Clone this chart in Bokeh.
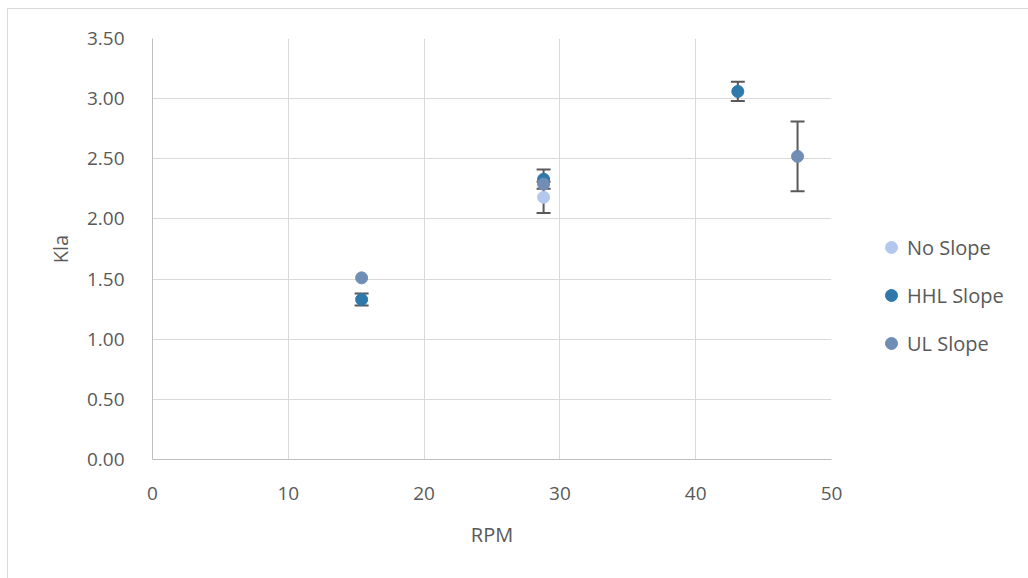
from bokeh.plotting import figure
from bokeh.layouts import row
from bokeh.models import ColumnDataSource, Whisker, TeeHead, Legend, LegendItem, FixedTicker, Range1d, NumeralTickFormatter
from bokeh.embed import file_html
from bokeh.resources import INLINE

# Data
no_x = [28.8]
no_y = [2.18]
no_err = [0.13]

hhl_x = [15.4, 28.8, 43.1]
hhl_y = [1.33, 2.33, 3.06]
hhl_err = [0.05, 0.08, 0.08]

ul_x = [15.4, 28.8, 47.5]
ul_y = [1.51, 2.29, 2.52]
ul_err = [0.0, 0.0, 0.29]

series = ["No Slope", "HHL Slope", "UL Slope"]
colors = {"No Slope": "#B4C7EC", "HHL Slope": "#2E78AA", "UL Slope": "#6F8DB5"}
FONT = "Open Sans"
TXT = "#595959"

p = figure(width=838, height=570, output_backend="svg", toolbar_location=None,
           x_range=Range1d(0, 50), y_range=Range1d(0, 3.5),
           min_border_left=144, min_border_right=15, min_border_top=29, min_border_bottom=120)
p.outline_line_color = None
p.background_fill_color = "white"

p.xaxis.ticker = FixedTicker(ticks=[0, 10, 20, 30, 40, 50])
p.yaxis.ticker = FixedTicker(ticks=[0, 0.5, 1, 1.5, 2, 2.5, 3, 3.5])
p.yaxis.formatter = NumeralTickFormatter(format="0.00")
for ax in (p.xaxis[0], p.yaxis[0]):
    ax.major_tick_line_color = None
    ax.minor_tick_line_color = None
    ax.axis_line_color = "#BFBFBF"
    ax.major_label_text_font = FONT
    ax.major_label_text_font_size = "19px"
    ax.major_label_text_color = TXT
    ax.axis_label_text_font = FONT
    ax.axis_label_text_font_size = "20px"
    ax.axis_label_text_color = TXT
    ax.axis_label_text_font_style = "normal"
p.xaxis.axis_label = "RPM"
p.yaxis.axis_label = "Kla"
p.xaxis.major_label_standoff = 21
p.yaxis.major_label_standoff = 22
p.xaxis.axis_label_standoff = 18
p.yaxis.axis_label_standoff = 10
p.grid.grid_line_color = "#D9D9D9"
p.grid.grid_line_width = 1

def add_err(xs, ys, es):
    src = ColumnDataSource(dict(x=[x for x, e in zip(xs, es) if e > 0],
                                lo=[y - e for y, e in zip(ys, es) if e > 0],
                                hi=[y + e for y, e in zip(ys, es) if e > 0]))
    w = Whisker(source=src, base="x", upper="hi", lower="lo", dimension="height",
                line_color="#595959", line_width=2,
                upper_head=TeeHead(size=14, line_color="#595959", line_width=2),
                lower_head=TeeHead(size=14, line_color="#595959", line_width=2))
    p.add_layout(w)

add_err(no_x, no_y, no_err)
add_err(hhl_x, hhl_y, hhl_err)
add_err(ul_x, ul_y, ul_err)

p.scatter(no_x, no_y, size=12, color=colors["No Slope"])
p.scatter(hhl_x, hhl_y, size=12, color=colors["HHL Slope"])
p.scatter(ul_x, ul_y, size=12, color=colors["UL Slope"])

# Legend panel (dummy off-range renderers only provide legend swatches)
p2 = figure(width=184, height=570, output_backend="svg", toolbar_location=None,
            x_axis_type=None, y_axis_type=None, x_range=Range1d(0, 1), y_range=Range1d(0, 1),
            min_border_left=0, min_border_right=0, min_border_top=0, min_border_bottom=0)
p2.outline_line_color = None
p2.grid.visible = False
items = []
for s in series:
    r = p2.scatter(x=[-5], y=[-5], size=12, color=colors[s])
    items.append(LegendItem(label=s, renderers=[r]))
legend = Legend(items=items, location=(30, 101), border_line_color=None, background_fill_alpha=0,
                padding=0, margin=0, spacing=18, glyph_width=30, glyph_height=30,
                label_height=30, label_standoff=1,
                label_text_font=FONT, label_text_font_size="20px", label_text_color=TXT)
p2.add_layout(legend, "center")

layout = row(p, p2, margin=(8, 0, 0, 7),
             styles={"border-top": "1px solid #D9D9D9", "border-left": "1px solid #D9D9D9"})

open("out.html", "w").write(file_html(layout, INLINE))
